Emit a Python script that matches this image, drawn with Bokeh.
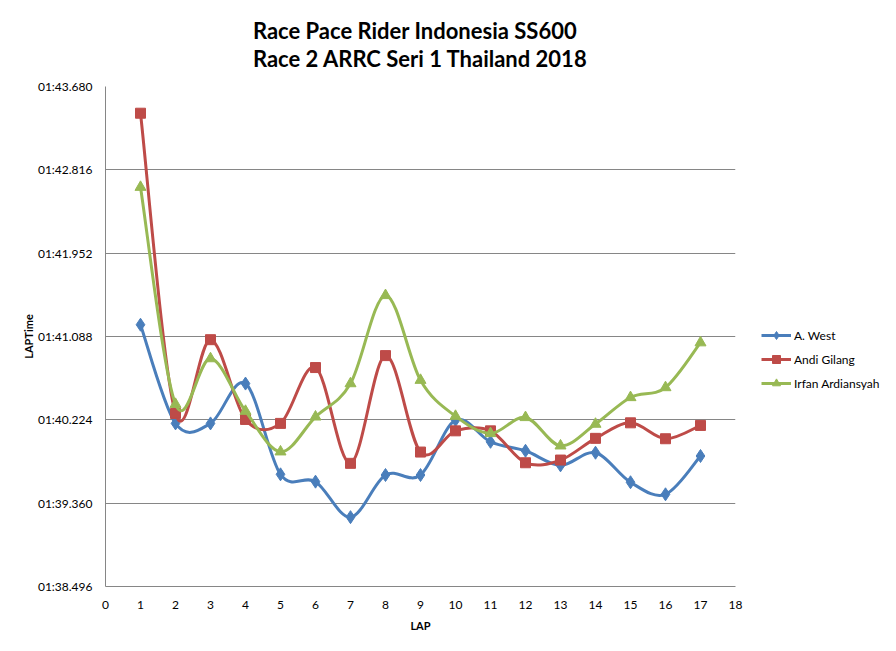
import numpy as np
from bokeh.plotting import figure
from bokeh.layouts import row
from bokeh.models import Range1d, FixedTicker, Legend, LegendItem, Title
from bokeh.embed import file_html
from bokeh.resources import INLINE

# ---------------- data ----------------
laps = list(range(1, 18))
west = [101.210, 100.187, 100.187, 100.600, 99.659, 99.583, 99.215, 99.652, 99.652,
        100.221, 99.996, 99.903, 99.752, 99.883, 99.577, 99.452, 99.849]
andi = [103.403, 100.290, 101.055, 100.228, 100.187, 100.766, 99.773, 100.890, 99.890,
        100.110, 100.110, 99.779, 99.807, 100.032, 100.193, 100.028, 100.166]
irfan = [102.636, 100.386, 100.859, 100.314, 99.893, 100.255, 100.600, 101.514, 100.635,
         100.262, 100.083, 100.249, 99.955, 100.180, 100.456, 100.559, 101.024]
series_names = ["A. West", "Andi Gilang", "Irfan Ardiansyah"]
y_ticks = [98.496, 99.360, 100.224, 101.088, 101.952, 102.816, 103.680]
y_tick_labels = ["01:38.496", "01:39.360", "01:40.224", "01:41.088",
                 "01:41.952", "01:42.816", "01:43.680"]
x_ticks = list(range(0, 19))
title_text = "Race Pace Rider Indonesia SS600\nRace 2 ARRC Seri 1 Thailand 2018"

colors = ["#4A7EBB", "#BE4B48", "#98B954"]
markers = ["diamond", "square", "triangle"]
msizes = [13, 10, 11]

FONT = "Lato"


def smooth_segments(xs, ys):
    xs = np.asarray(xs, float)
    ys = np.asarray(ys, float)
    n = len(xs)
    seg = dict(x0=[], y0=[], x1=[], y1=[], cx0=[], cy0=[], cx1=[], cy1=[])
    for i in range(n - 1):
        a = i - 1 if i > 0 else i
        d = i + 2 if i + 2 < n else i + 1
        seg["x0"].append(xs[i]); seg["y0"].append(ys[i])
        seg["x1"].append(xs[i + 1]); seg["y1"].append(ys[i + 1])
        seg["cx0"].append(xs[i] + (xs[i + 1] - xs[a]) / 6)
        seg["cy0"].append(ys[i] + (ys[i + 1] - ys[a]) / 6)
        seg["cx1"].append(xs[i + 1] - (xs[d] - xs[i]) / 6)
        seg["cy1"].append(ys[i + 1] - (ys[d] - ys[i]) / 6)
    return seg


p = figure(width=745, height=635, output_backend="svg", toolbar_location=None,
           x_range=Range1d(0, 18), y_range=Range1d(98.496, 103.680),
           min_border_left=105, min_border_right=10, min_border_top=85, min_border_bottom=49)
p.outline_line_color = None
p.background_fill_color = "white"
p.border_fill_color = "white"

t = Title(text=title_text, align="center", offset=28,
          text_font=FONT, text_font_size="22px", text_font_style="bold",
          text_color="#000000", text_line_height=1.05, standoff=29)
p.add_layout(t, "above")

# axes
p.xaxis.ticker = FixedTicker(ticks=x_ticks)
p.yaxis.ticker = FixedTicker(ticks=y_ticks)
p.yaxis.major_label_overrides = {v: s for v, s in zip(y_ticks, y_tick_labels)}
for ax in (p.xaxis[0], p.yaxis[0]):
    ax.major_tick_out = 0
    ax.major_tick_in = 0
    ax.minor_tick_out = 0
    ax.minor_tick_in = 0
    ax.axis_line_color = "#868686"
    ax.major_label_text_font = FONT
    ax.major_label_text_font_size = "12px"
    ax.major_label_text_color = "#000000"
    ax.axis_label_text_font = FONT
    ax.axis_label_text_font_size = "11px"
    ax.axis_label_text_font_style = "bold"
    ax.axis_label_text_color = "#000000"
p.xaxis.axis_label = "LAP"
p.yaxis.axis_label = "LAPTime"
p.xaxis.major_label_standoff = 14
p.yaxis.major_label_standoff = 13
p.xaxis.axis_label_standoff = 7
p.yaxis.axis_label_standoff = 0

p.xgrid.grid_line_color = None
p.ygrid.grid_line_color = "#868686"
p.ygrid.grid_line_width = 1

for name, ys, c, m, ms in zip(series_names, [west, andi, irfan], colors, markers, msizes):
    seg = smooth_segments(laps, ys)
    p.bezier(x0=seg["x0"], y0=seg["y0"], x1=seg["x1"], y1=seg["y1"],
             cx0=seg["cx0"], cy0=seg["cy0"], cx1=seg["cx1"], cy1=seg["cy1"],
             line_color=c, line_width=3)
    p.scatter(laps, ys, marker=m, size=ms, fill_color=c, line_color=c)

# ---- legend panel (separate figure to the right) ----
q = figure(width=135, height=635, output_backend="svg", toolbar_location=None,
           x_range=Range1d(0, 1), y_range=Range1d(0, 1),
           x_axis_type=None, y_axis_type=None, min_border=0)
q.outline_line_color = None
q.grid.grid_line_color = None
q.background_fill_color = "white"
q.border_fill_color = "white"
items = []
for name, c, m, ms in zip(series_names, colors, markers, msizes):
    rl = q.line(x=[5, 6], y=[5, 6], line_color=c, line_width=3)
    rs = q.scatter(x=[5], y=[5], marker=m, size=ms, fill_color=c, line_color=c)
    items.append(LegendItem(label=name, renderers=[rl, rs]))
legend = Legend(items=items, location=(16, 193), border_line_color=None,
                background_fill_alpha=0, label_text_font=FONT, label_text_font_size="12px",
                label_text_color="#000000", glyph_width=30, glyph_height=20,
                label_height=20, spacing=4, padding=4, label_standoff=3, margin=0)
q.add_layout(legend)

open("out.html", "w").write(file_html(row(p, q), INLINE))
